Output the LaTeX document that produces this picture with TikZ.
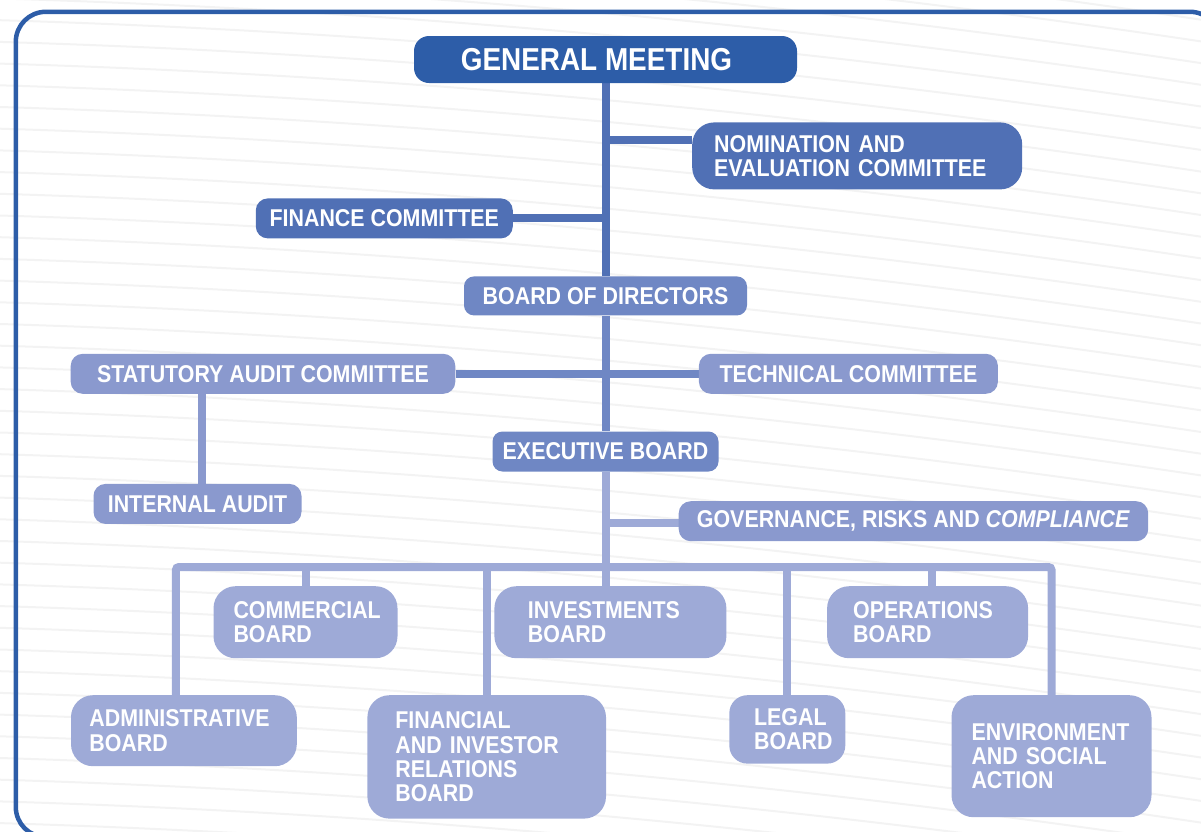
\documentclass[tikz,border=0pt]{standalone}
\usepackage{fontspec}
\setmainfont[FakeStretch=0.88]{Liberation Sans}
\usetikzlibrary{positioning}

\definecolor{gmblue}{HTML}{2D5DA8}
\definecolor{comblue}{HTML}{5070B5}
\definecolor{boardblue}{HTML}{6F87C4}
\definecolor{auditblue}{HTML}{8A99CE}
\definecolor{unitblue}{HTML}{9EAAD7}
\definecolor{wave}{HTML}{F3F3F3}

\pgfdeclarelayer{back}
\pgfdeclarelayer{links}
\pgfsetlayers{back,links,main}

\begin{document}
\begin{tikzpicture}[
  x=1pt, y=-1pt,
  box/.style={rounded corners=12pt, text=white, inner sep=0pt,
    font=\fontsize{24.3}{24.3}\selectfont\bfseries},
  top/.style={box, fill=gmblue, rounded corners=15pt,
    minimum width=383pt, minimum height=47pt,
    font=\fontsize{31.7}{32}\selectfont\bfseries},
  committee/.style={box, fill=comblue},
  board/.style={box, fill=boardblue, rounded corners=10pt, minimum height=39pt},
  audit/.style={box, fill=auditblue, minimum height=40pt},
  unit/.style={box, fill=unitblue, rounded corners=22pt, align=left},
  link/.style={line width=8pt},
  wave line/.style={draw=wave, line width=2pt}
]
  \useasboundingbox (0,0) rectangle (1201,831);

  \begin{pgfonlayer}{back}
    % faint wavy background
    \foreach \y in {-110,-88.3,...,840}
      \draw[wave line] (0,\y) .. controls (400,\y+12) and (801,\y+48) .. (1201,\y+108);
    % outer frame
    \draw[gmblue, line width=4.5pt, rounded corners=30pt]
      (15.8,11.8) rectangle (1220,837);
  \end{pgfonlayer}

  % top of the chart
  \node[top] (gm) at (605.5,59.5) {\hspace*{-18pt}GENERAL MEETING};
  \node[committee, below right=39pt and 86.5pt of gm.south, rounded corners=22pt,
        minimum width=330pt, minimum height=67pt, text width=286pt,
        inner xsep=22pt, align=left]
    (nom) {NOMINATION AND\\EVALUATION COMMITTEE};
  \node[committee, below left=115pt and 92.5pt of gm.south,
        minimum width=257pt, minimum height=40pt]
    (fin) {FINANCE COMMITTEE};

  \node[board, below=193pt of gm, minimum width=283pt] (bod) {BOARD OF DIRECTORS};
  \node[audit, below left=38pt and 150pt of bod.south, minimum width=384.6pt]
    (sac) {STATUTORY AUDIT COMMITTEE};
  \node[audit, below right=38pt and 93.2pt of bod.south, minimum width=299pt]
    (tech) {TECHNICAL COMMITTEE};
  \node[audit, below=89.7pt of sac, xshift=-65.5pt, minimum width=208pt]
    (ia) {INTERNAL AUDIT};

  \node[board, below=115.7pt of bod, minimum width=226pt, minimum height=40pt]
    (exec) {EXECUTIVE BOARD};
  \node[audit, below right=29.3pt and 73pt of exec.south, minimum width=469.5pt]
    (grc) {GOVERNANCE, RISKS AND \textit{COMPLIANCE}};

  % boards under the executive board
  \node[unit, below=114.3pt of exec, xshift=4.9pt, minimum height=72pt,
        text width=165pt, inner xsep=33.5pt]
    (inv) {INVESTMENTS\\BOARD};
  \node[unit, left=96.5pt of inv, minimum height=72pt,
        text width=144pt, inner xsep=20pt]
    (com) {COMMERCIAL\\BOARD};
  \node[unit, right=100.3pt of inv, minimum height=72pt,
        text width=149pt, inner xsep=26pt]
    (ops) {OPERATIONS\\BOARD};

  \node[unit, below=36.6pt of com, xshift=-121.6pt, minimum height=71pt,
        text width=189pt, inner xsep=18.4pt]
    (adm) {ADMINISTRATIVE\\BOARD};
  \node[unit, below=36.6pt of inv, xshift=-123.7pt, minimum height=123.4pt,
        text width=182.6pt, inner xsep=28pt]
    (fir) {FINANCIAL\\AND INVESTOR\\RELATIONS\\BOARD};
  \node[unit, below=36.6pt of ops, xshift=-140.3pt, minimum height=68.4pt,
        text width=66.4pt, inner xsep=24.8pt, rounded corners=18pt]
    (leg) {LEGAL\\BOARD};
  \node[unit, below=36.6pt of ops, xshift=123.9pt, minimum height=122pt,
        text width=160pt, inner xsep=20pt]
    (env) {ENVIRONMENT\\AND SOCIAL\\ACTION};

  \coordinate[below=95.3pt of exec.south] (bus);

  % connectors, kept under the boxes
  \begin{pgfonlayer}{links}
    \draw[link, comblue] (gm.south) -- (gm.south |- bod.north);
    \draw[link, comblue] ([yshift=15.5pt]nom.west) -| (gm.south);
    \draw[link, comblue] (fin.east) -| (gm.south);

    \draw[link, boardblue] (bod.south) -- (exec.north);
    \draw[link, boardblue] (sac.east) -- (tech.west);
    \draw[link, auditblue] ([xshift=4pt]ia.north) -- ([xshift=4pt]ia.north |- sac.south);

    \draw[link, unitblue] (exec.south) -- (exec.south |- inv.north);
    \draw[link, unitblue] ([yshift=-1.5pt]grc.west) -| (exec.south);
    \draw[link, unitblue, rounded corners=3pt]
      ([xshift=-8pt]adm.north) |- (bus) -| (env.north);
    \foreach \b in {com, fir, leg}
      \draw[link, unitblue] (\b.north) -- (\b.north |- bus);
    \draw[link, unitblue] ([xshift=4pt]ops.north) -- ([xshift=4pt]ops.north |- bus);
  \end{pgfonlayer}
\end{tikzpicture}
\end{document}
